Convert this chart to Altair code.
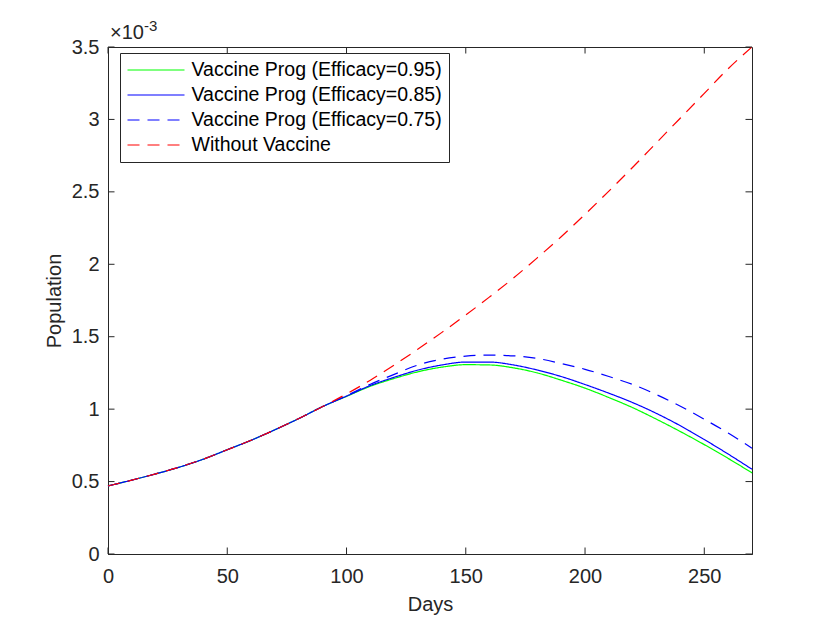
import altair as alt
import pandas as pd

# ---- data (population in units of 1e-3) ----
DAYS = list(range(0, 280, 10))
BASE = [0.470, 0.510, 0.553, 0.600, 0.655, 0.720, 0.785, 0.858, 0.935, 1.018]
WITHOUT = BASE + [1.105, 1.200, 1.305, 1.415, 1.530, 1.650, 1.775, 1.905, 2.045,
                  2.190, 2.345, 2.505, 2.670, 2.840, 3.010, 3.180, 3.350, 3.500]
EFF95 = BASE + [1.088, 1.158, 1.212, 1.258, 1.290, 1.307, 1.305, 1.285, 1.250,
                1.200, 1.145, 1.080, 1.010, 0.930, 0.845, 0.755, 0.660, 0.560]
EFF85 = BASE + [1.090, 1.163, 1.220, 1.270, 1.305, 1.325, 1.325, 1.305, 1.270,
                1.225, 1.170, 1.110, 1.045, 0.970, 0.885, 0.790, 0.690, 0.585]
EFF75 = BASE + [1.093, 1.172, 1.240, 1.305, 1.345, 1.366, 1.373, 1.368, 1.350,
                1.315, 1.275, 1.225, 1.170, 1.100, 1.020, 0.930, 0.835, 0.730]

SERIES = ["Vaccine Prog (Efficacy=0.95)", "Vaccine Prog (Efficacy=0.85)",
          "Vaccine Prog (Efficacy=0.75)", "Without Vaccine"]
VALUES = [EFF95, EFF85, EFF75, WITHOUT]
COLORS = ["#00FF00", "#0000FF", "#0000FF", "#FF0000"]
DASHES = [[1, 0], [1, 0], [12, 8], [12, 8]]

X_TICKS = [0, 50, 100, 150, 200, 250]
Y_TICKS = [0, 0.5, 1, 1.5, 2, 2.5, 3, 3.5]
SCALE_BASE = ["×10"]
SCALE_EXP = ["-3"]

X_TITLE = "Days"
Y_TITLE = "Population"

W, H = 644, 507
TL = 6.5
AX = "#262626"
FONT = "Liberation Sans"

rows = []
for name, vals in zip(SERIES, VALUES):
    for d, v in zip(DAYS, vals):
        rows.append({"Days": d, "Population": v, "Series": name})
df = pd.DataFrame(rows)

xs = alt.Scale(domain=[0, 270], nice=False, zero=False)
ys = alt.Scale(domain=[0, 3.5], nice=False)

lines = alt.Chart(df).mark_line(strokeWidth=1.2, interpolate="monotone").encode(
    x=alt.X("Days:Q", scale=xs,
            axis=alt.Axis(title=X_TITLE, values=X_TICKS, format="d", labelFlush=False)),
    y=alt.Y("Population:Q", scale=ys,
            axis=alt.Axis(title=Y_TITLE, values=Y_TICKS, format="~g", labelFlush=False)),
    color=alt.Color("Series:N", scale=alt.Scale(domain=SERIES, range=COLORS),
                    sort=SERIES,
                    legend=alt.Legend(title=None, orient="none", legendX=12, legendY=6,
                                      symbolType="stroke", symbolSize=3249,
                                      symbolStrokeWidth=1.2,
                                      labelFont=FONT, labelFontSize=19.5,
                                      labelColor="#000000", labelOffset=6,
                                      padding=6.5, strokeColor=AX, fillColor="white",
                                      clipHeight=21, rowPadding=4, labelLimit=400)),
    strokeDash=alt.StrokeDash("Series:N", scale=alt.Scale(domain=SERIES, range=DASHES),
                              sort=SERIES, legend=None),
    detail="Series:N",
)

xt = pd.DataFrame({"Days": X_TICKS})
yt = pd.DataFrame({"Population": Y_TICKS})

tick_bottom = alt.Chart(xt).mark_rule(color=AX, strokeWidth=1).encode(
    x=alt.X("Days:Q", scale=xs), y=alt.value(H), y2=alt.value(H - TL))
tick_top = alt.Chart(xt).mark_rule(color=AX, strokeWidth=1).encode(
    x=alt.X("Days:Q", scale=xs), y=alt.value(0), y2=alt.value(TL))
tick_left = alt.Chart(yt).mark_rule(color=AX, strokeWidth=1).encode(
    y=alt.Y("Population:Q", scale=ys), x=alt.value(0), x2=alt.value(TL))
tick_right = alt.Chart(yt).mark_rule(color=AX, strokeWidth=1).encode(
    y=alt.Y("Population:Q", scale=ys), x=alt.value(W), x2=alt.value(W - TL))

base_txt = alt.Chart(pd.DataFrame({"t": SCALE_BASE})).mark_text(
    align="left", baseline="alphabetic", font=FONT, fontSize=20, color=AX).encode(
    text="t:N", x=alt.value(2), y=alt.value(-8))
exp_txt = alt.Chart(pd.DataFrame({"t": SCALE_EXP})).mark_text(
    align="left", baseline="alphabetic", font=FONT, fontSize=15, color=AX).encode(
    text="t:N", x=alt.value(36), y=alt.value(-16))

chart = alt.layer(lines, tick_bottom, tick_top, tick_left, tick_right, base_txt, exp_txt).properties(
    width=W, height=H,
    autosize=alt.AutoSizeParams(type="none"),
    padding={"left": 100, "top": 39, "right": 60, "bottom": 68},
).configure_view(stroke=AX, strokeWidth=1).configure_axis(
    grid=False, ticks=False, domainColor=AX, domainWidth=1,
    labelFont=FONT, labelFontSize=20, labelColor=AX,
    titleFont=FONT, titleFontSize=20, titleFontWeight="normal", titleColor=AX,
).configure_axisX(labelPadding=12, titlePadding=8).configure_axisY(
    labelPadding=9, titlePadding=7)

chart.save("out.html", embed_options={"renderer": "svg", "actions": False})
